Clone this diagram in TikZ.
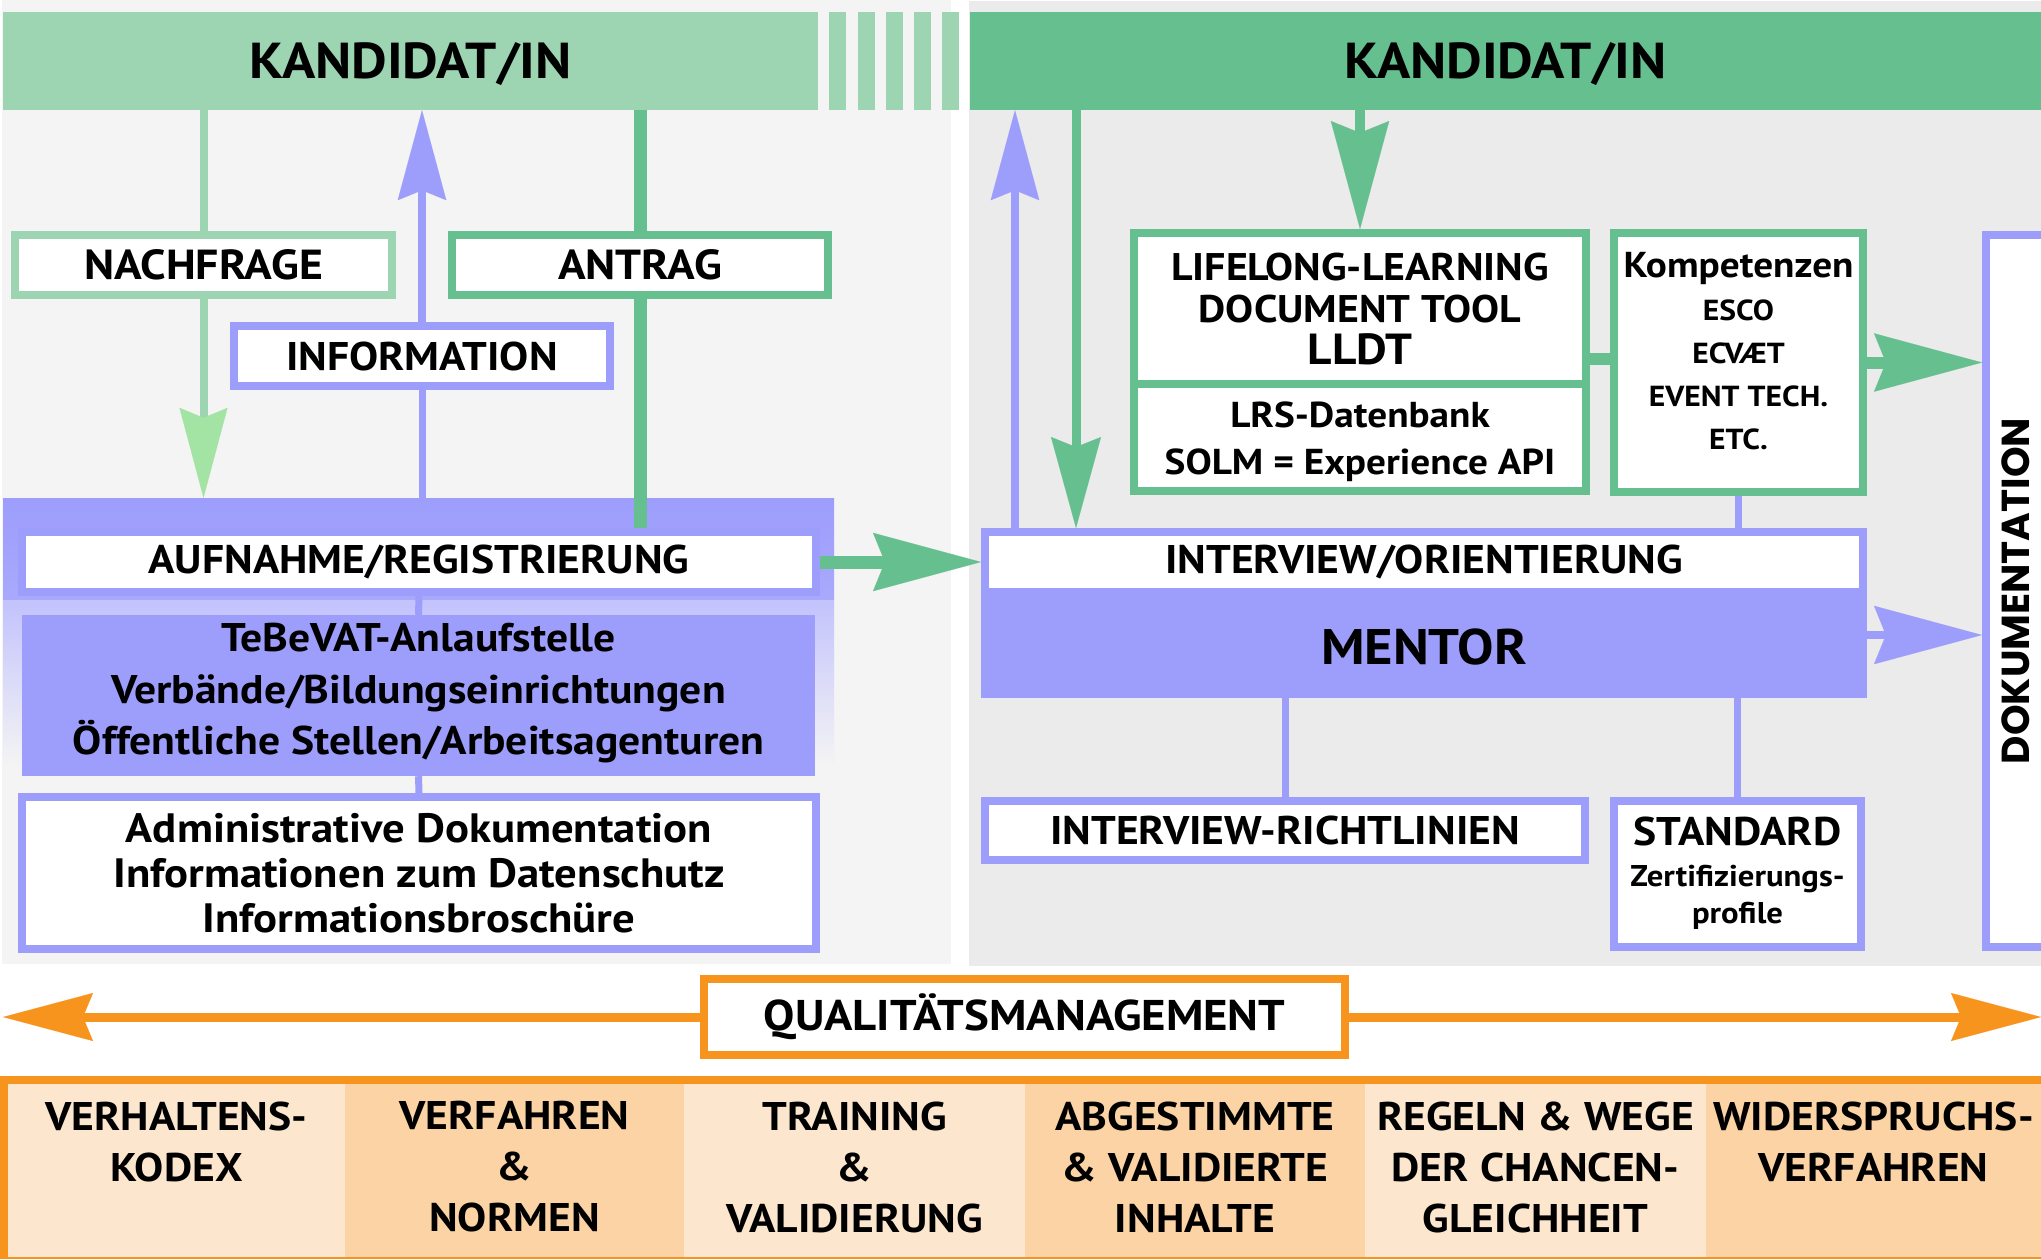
\documentclass[tikz,border=0pt]{standalone}
\usepackage{fontspec}
\setmainfont{PT Sans}[FakeStretch=1.09]
\newfontfamily\geofont{Poppins}
\usetikzlibrary{arrows.meta,calc}
\definecolor{lgreen}{HTML}{9DD4B2}
\definecolor{dgreen}{HTML}{66BF8F}
\definecolor{agreen}{HTML}{A3E3A3}
\definecolor{lila}{HTML}{9D9DFC}
\definecolor{orng}{HTML}{F7941D}
\definecolor{bgL}{HTML}{F4F4F4}
\definecolor{bgR}{HTML}{EBEBEB}
\definecolor{cellA}{HTML}{FDE6CE}
\definecolor{cellB}{HTML}{FCD3A5}
\newcommand\myfs[2]{\fontsize{#1}{#2}\selectfont\bfseries}
\newcommand\shdown[2]{\raisebox{-#1}[\height][\depth]{#2}}
\begin{document}
\begin{tikzpicture}[x=1pt,y=-1pt,
  box/.style={draw, line width=8pt, fill=white, inner sep=0pt, align=center, text=black},
  solid box/.style={inner sep=0pt, align=center, text=black},
  hdr/.style={inner sep=0pt, text=black, font=\myfs{50.5}{53}},
  cell/.style={inner sep=0pt, align=center, text=black, font=\myfs{40}{51}, minimum height=173pt},
  lgline/.style={draw=lgreen, line width=8pt},
  dgline/.style={draw=dgreen, line width=13pt},
  purline/.style={draw=lila, line width=7pt},
  tipA/.style={-{Stealth[length=#1, width=0.54*#1, inset=0.11*#1, line width=0.1pt]}},
]
\useasboundingbox (0,0) rectangle (2041,1259);
\fill[white] (0,0) rectangle (2041,1259);
% panels
\fill[bgL] (2,0) rectangle (951,964);
\fill[bgR] (969,1) rectangle (2041,966);
% headers
\node[hdr, fill=lgreen, minimum width=815pt, minimum height=98pt] (hdrL) at (410.5,61) {\shdown{3pt}{KANDIDAT/IN}};
\foreach \a in {829,858,886,914,942} \fill[lgreen] (\a,12) rectangle ({\a+17},110);
\node[hdr, fill=dgreen, minimum width=1071pt, minimum height=98pt] (hdrR) at (1505.5,61) {\shdown{3pt}{KANDIDAT/IN}};
% left column boxes
\node[box, draw=lgreen, minimum width=377pt, minimum height=60pt, font=\myfs{42}{50}] (nach) at (203.5,265) {NACHFRAGE};
\node[box, draw=dgreen, minimum width=376pt, minimum height=60pt, font=\myfs{42}{50}] (antrag) at (640,265) {ANTRAG};
\node[box, draw=lila, minimum width=376pt, minimum height=60pt, font=\myfs{40}{48}] (info) at (422,356) {INFORMATION};
% registration block
\node[solid box, top color=lila, bottom color=lila!88!white, minimum width=831pt, minimum height=102pt] (regblock) at (418.5,549) {};
\shade[top color=lila!62!white, bottom color=bgL] (3,600) rectangle (834,765);
\node[box, draw=lila, minimum width=794pt, minimum height=60pt, font=\myfs{40}{48}] (aufn) at (419,562) {AUFNAHME/REGISTRIERUNG};
\node[solid box, fill=lila, minimum width=793pt, minimum height=161pt, font=\myfs{40}{51.5}] (tebe) at (418.5,695.5) {\shdown{-2pt}{TeBeVAT-Anlaufstelle}\\\shdown{-2pt}{Verbände/Bildungseinrichtungen}\\\shdown{-2pt}{Öffentliche Stellen/Arbeitsagenturen}};
\node[box, draw=lila, minimum width=794pt, minimum height=152pt, font=\myfs{41}{45}] (admin) at (419,873) {Administrative Dokumentation\\Informationen zum Datenschutz\\Informationsbroschüre};
% right column
\node[box, draw=dgreen, minimum width=452pt, minimum height=107pt, font=\myfs{36}{47}] (lrs) at (1360,437.5) {\shdown{4pt}{LRS-Datenbank}\\\shdown{4pt}{SOLM = Experience API}};
\node[box, draw=dgreen, minimum width=452pt, minimum height=151pt, font=\myfs{38.5}{42}] (lldt) at (1360,308.5) {LIFELONG-LEARNING\\DOCUMENT TOOL\\{\myfs{43.5}{42}LLDT}};
\node[box, draw=dgreen, minimum width=249pt, minimum height=259pt, font=\myfs{29}{43}] (komp) at (1738.5,362.5) {{\myfs{36}{43}Kompetenzen}\\ESCO\\ECVÆT\\EVENT TECH.\\ETC.\\[-20pt]\mbox{}};
\node[solid box, fill=lila, minimum width=886pt, minimum height=110pt, font=\myfs{50}{50}] (mentor) at (1424,643) {\shdown{4pt}{MENTOR}};
\node[box, draw=lila, minimum width=878pt, minimum height=60pt, font=\myfs{40}{48}] (intv) at (1424,562) {INTERVIEW/ORIENTIERUNG};
\node[box, draw=lila, minimum width=600pt, minimum height=59pt, font=\myfs{40}{48}] (richt) at (1285,830.5) {INTERVIEW-RICHTLINIEN};
\node[box, draw=lila, minimum width=247pt, minimum height=146pt, font=\myfs{30}{37}] (std) at (1737.5,874) {{\myfs{40}{40}\shdown{-2pt}{STANDARD}}\\[2pt]Zertifizierungs-\\profile};
\node[box, draw=lila, minimum width=60pt, minimum height=712pt] (doku) at (2016,591) {\rotatebox{90}{\geofont\myfs{39}{39}DOKUMENTATION}};
% quality management
\node[box, draw=orng, line width=8.5pt, minimum width=641pt, minimum height=76pt, font=\myfs{43}{48}] (qm) at (1024.5,1017) {QUALITÄTSMANAGEMENT};
\coordinate (qL) at (3,1017);
\coordinate (qR) at (2041,1017);
% table
\fill[orng] (0,1076) rectangle (2041,1259);
\fill[cellA] (8,1084) rectangle (345,1257);
\fill[cellB] (345,1084) rectangle (684,1257);
\fill[cellA] (684,1084) rectangle (1025,1257);
\fill[cellB] (1025,1084) rectangle (1365,1257);
\fill[cellA] (1365,1084) rectangle (1706,1257);
\fill[cellB] (1706,1084) rectangle (2041,1257);
\node[cell, minimum width=337pt] (c1) at (176.5,1167) {VERHALTENS-\\KODEX\\\mbox{}};
\node[cell, minimum width=339pt] (c2) at (514.5,1167) {VERFAHREN\\\&\\NORMEN};
\node[cell, minimum width=341pt] (c3) at (854.5,1167) {TRAINING\\\&\\VALIDIERUNG};
\node[cell, minimum width=340pt] (c4) at (1195,1167) {ABGESTIMMTE\\\& VALIDIERTE\\INHALTE};
\node[cell, minimum width=341pt] (c5) at (1535.5,1167) {REGELN \& WEGE\\DER CHANCEN-\\GLEICHHEIT};
\node[cell, minimum width=335pt] (c6) at (1873.5,1167) {WIDERSPRUCHS-\\VERFAHREN\\\mbox{}};
% helper coordinates
\coordinate (xup) at (1015,0);
\coordinate (xdn) at (1076,0);
\coordinate (yk) at (0,359);
\coordinate (ym) at (0,635);
% connectors left
\draw[lgline] (nach.north |- hdrL.south) -- (nach.north);
\draw[lgline, -{Stealth[length=90pt, width=48pt, inset=10pt, line width=0.1pt, color=agreen]}] (nach.south) -- (nach.south |- regblock.north);
\draw[purline, line width=8pt, tipA=90pt] (info.north) -- (info.north |- hdrL.south);
\draw[purline] (info.south) -- (info.south |- regblock.north);
\draw[dgline] (antrag.north |- hdrL.south) -- (antrag.north);
\draw[dgline] (antrag.south) -- (antrag.south |- aufn.north);
\draw[purline] (aufn.south) -- (tebe.north);
\draw[purline] (tebe.south) -- (admin.north);
\draw[dgline, tipA=108pt] (aufn.east) -- (intv.west);
% connectors right
\draw[purline, line width=8pt, tipA=90pt] (xup |- intv.north) -- (xup |- hdrR.south);
\draw[dgline, line width=9pt, -{Stealth[length=91pt, width=50pt, inset=10pt, line width=0.1pt]}] (xdn |- hdrR.south) -- (xdn |- intv.north);
\draw[dgline, line width=10pt, tipA=108pt] (lldt.north |- hdrR.south) -- (lldt.north);
\draw[dgline, line width=12pt] (lldt.east |- yk) -- (komp.west |- yk);
\draw[dgline, line width=12pt, tipA=108pt] (komp.east) -- (doku.west |- komp.east);
\draw[purline] (komp.south) -- (komp.south |- intv.north);
\draw[purline, line width=8pt, tipA=108pt] (mentor.east |- ym) -- (doku.west |- ym);
\draw[purline] (richt.north |- mentor.south) -- (richt.north);
\draw[purline] (std.north |- mentor.south) -- (std.north);
% quality arrows
\draw[draw=orng, line width=9pt, -{Stealth[length=90pt, width=48pt, inset=10pt, line width=0.1pt]}] (qm.west) -- (qL);
\draw[draw=orng, line width=9pt, -{Stealth[length=90pt, width=48pt, inset=10pt, line width=0.1pt]}] (qm.east) -- (qR);
\end{tikzpicture}
\end{document}
